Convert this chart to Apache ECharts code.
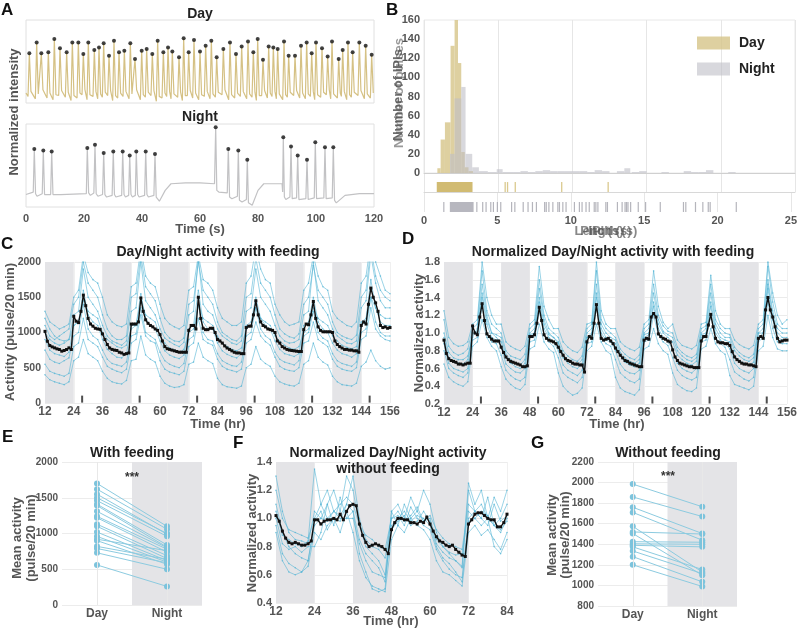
<!DOCTYPE html>
<html><head><meta charset="utf-8">
<script src="https://cdn.jsdelivr.net/npm/echarts@6/dist/echarts.min.js"></script>
<style>html,body{margin:0;padding:0;background:#fff}#c{width:800px;height:630px}</style>
</head><body><div id="c"></div>
<script>
// ---------- Panel A data ----------
const dayPeakT = [1.15,3.68,5.29,7.70,9.77,11.72,14.02,15.98,18.05,19.77,21.49,23.56,25.17,26.78,28.62,30.34,32.07,33.91,35.98,37.59,39.89,41.61,43.56,45.40,47.36,48.97,50.46,52.76,54.37,56.09,57.93,60.0,61.95,63.91,65.75,68.05,70.34,72.41,74.37,76.55,78.39,79.89,81.72,83.68,85.29,86.78,88.97,90.57,92.76,94.83,96.78,98.51,100.0,102.07,104.02,105.52,107.82,109.20,111.03,112.64,114.94,117.13,119.20];
const dayPeakV = [0.60,0.73,0.60,0.61,0.77,0.66,0.61,0.73,0.73,0.59,0.73,0.64,0.67,0.72,0.57,0.75,0.61,0.63,0.72,0.53,0.63,0.65,0.59,0.75,0.61,0.67,0.62,0.55,0.78,0.61,0.76,0.62,0.69,0.75,0.55,0.65,0.73,0.59,0.68,0.74,0.61,0.77,0.52,0.68,0.67,0.65,0.74,0.57,0.57,0.69,0.73,0.60,0.73,0.66,0.56,0.74,0.53,0.64,0.73,0.61,0.73,0.69,0.58];
const dayTroughV = [0.08,0.05,0.10,0.06,0.04,0.09,0.07,0.03,0.06,0.10,0.04,0.08,0.05,0.07,0.09,0.03,0.06,0.08,0.05,0.10,0.04,0.07,0.09,0.02,0.06,0.08,0.05,0.07,0.03,0.09,0.06,0.04,0.08,0.05,0.07,0.10,0.04,0.06,0.08,0.05,0.07,0.03,0.09,0.06,0.08,0.05,0.04,0.07,0.09,0.06,0.05,0.08,0.04,0.07,0.10,0.05,0.06,0.08,0.04,0.07,0.09,0.05,0.06];
const nightTrace = [[0,0.15],[2.5,0.18],[2.86,0.70],[3.3,0.16],[3.8,0.13],[5.6,0.16],[5.97,0.68],[6.4,0.15],[6.9,0.13],[8.5,0.15],[8.86,0.67],[9.3,0.15],[9.8,0.13],[12,0.15],[20.8,0.16],[21.14,0.71],[21.6,0.17],[22.2,0.14],[23.4,0.17],[23.79,0.75],[24.2,0.16],[24.8,0.13],[26.4,0.15],[26.79,0.65],[27.2,0.15],[27.8,0.12],[29.7,0.14],[30.1,0.67],[30.5,0.15],[31,0.12],[33,0.14],[33.34,0.67],[33.8,0.15],[34.3,0.12],[35.4,0.14],[35.76,0.62],[36.2,0.15],[36.7,0.12],[37.7,0.14],[38.03,0.67],[38.5,0.15],[39,0.12],[40.9,0.14],[41.28,0.67],[41.7,0.15],[42.2,0.12],[44.1,0.14],[44.48,0.64],[44.9,0.12],[46,0.07],[48,0.2],[50,0.28],[55,0.29],[60,0.29],[65,0.28],[65.41,0.96],[65.8,0.2],[66.5,0.18],[69.4,0.17],[69.76,0.70],[70.2,0.12],[71,0.1],[72.9,0.13],[73.21,0.68],[73.6,0.08],[74.5,0.06],[76,0.09],[76.31,0.57],[76.7,0.05],[78,0.02],[80,0.2],[82,0.28],[88.3,0.28],[88.5,0.18],[88.72,0.84],[89.1,0.12],[89.6,0.09],[91,0.12],[91.38,0.73],[91.8,0.1],[92.4,0.08],[93.3,0.11],[93.69,0.62],[94.1,0.09],[94.7,0.07],[96.5,0.1],[96.9,0.57],[97.3,0.09],[97.9,0.07],[99.4,0.11],[99.76,0.78],[100.2,0.1],[100.8,0.08],[102.7,0.11],[103.1,0.72],[103.5,0.1],[104.1,0.08],[105.6,0.11],[105.97,0.72],[106.4,0.08],[107,0.05],[110,0.14],[115,0.16],[120,0.16]];
const nightPeakT = [2.86,5.97,8.86,21.14,23.79,26.79,30.1,33.34,35.76,38.03,41.28,44.48,65.41,69.76,73.21,76.31,88.72,91.38,93.69,96.9,99.76,103.1,105.97];
const nightPeakV = [0.70,0.68,0.67,0.71,0.75,0.65,0.67,0.67,0.62,0.67,0.67,0.64,0.96,0.70,0.68,0.57,0.84,0.73,0.62,0.57,0.78,0.72,0.72];

// ---------- Panel B data ----------
const dayHist = [[0.9,1.12,5],[1.12,1.41,35],[1.41,1.79,53],[1.79,2.06,133],[2.06,2.29,160],[2.29,2.51,115],[2.51,2.75,22],[2.75,3.0,6],[3.0,3.3,2]];
const nightHist = [[1.75,2.06,20],[2.06,2.51,78],[2.51,2.8,90],[2.8,3.25,20],[3.25,3.7,6],[3.7,4.3,2],[4.3,4.9,1],[4.9,5.3,4],[5.3,6.0,1],[6.0,6.5,1],[6.5,7.0,2],[7.0,7.5,1],[7.5,8.0,2],[8.0,8.5,3],[8.5,9.0,2],[9.0,9.5,2],[9.5,10.0,2],[10.0,10.5,2],[10.5,11.0,2],[11.0,11.5,1],[11.5,12.0,3],[12.0,12.5,2],[13.0,13.5,2],[13.5,13.9,5],[14.0,14.5,1],[14.5,15.0,2],[16.0,16.5,1],[17.5,18.0,2],[18.0,18.5,1],[18.5,19.0,1],[19.0,19.5,3],[20.5,21.0,1]];
const dayRugBlock = [0.86,3.27];
const dayRugTicks = [5.47,5.63,6.15,9.28,12.41];
const nightRugBlock = [1.76,3.38];
const nightRugTicks = [1.35,3.6,4.0,4.23,4.55,4.73,5.0,5.23,5.97,6.19,6.76,7.09,7.39,7.66,8.22,8.33,8.51,8.78,9.12,9.23,9.46,9.68,10.25,10.59,10.77,11.04,11.26,11.6,11.71,11.85,12.39,12.5,13.18,13.5,13.7,13.8,13.9,14.08,14.6,15.1,16.1,17.68,17.84,18.5,19.0,19.37,19.5,21.28];

// ---------- Panel C data (pulse/20 min) ----------
const nightBandsCD = [[12,24],[36,48],[60,72],[84,96],[108,120],[132,144]];
const feedTimes = [27.5,51.5,75.5,99.5,123.5,147.5];
const meanC = [1016,876,815,796,782,768,759,735,745,759,782,759,
1230,1160,1140,1300,1530,1380,1200,1120,1090,1060,1050,1045,
980,900,830,780,760,750,745,720,710,690,700,710,
1120,1120,1120,1150,1490,1300,1180,1130,1100,1080,1050,1030,
970,880,800,770,760,750,740,730,720,720,720,720,
1030,1100,1100,1050,1500,1200,1060,1040,1040,1060,1060,1000,
900,880,850,810,780,760,740,720,710,710,700,700,
1070,1090,1090,1250,1450,1250,1150,1100,1080,1050,1040,1030,
1000,880,850,800,780,760,750,745,740,735,730,730,
1040,1120,1110,1250,1440,1200,1080,1030,1010,1010,1010,1010,
1000,880,830,800,780,760,760,750,750,740,740,720,
1100,1150,1120,1400,1630,1500,1420,1300,1100,1070,1080,1060,1070];
const fishC1 = [1300,1150,1100,1050,1080,1120,1500,1600,2100,1850,1750,1700,1500,1250,1150,1100,1080,1120,1650,1700,2200,1800,1700,1650,1400,1200,1120,1080,1050,1100,1600,1650,2100,1750,1700,1600,1350,1200,1150,1100,1100,1150,1700,1800,2200,1900,1750,1700,1400,1250,1150,1100,1120,1150,1600,1700,2100,1800,1650,1600,1300,1200,1150,1100,1080,1150,1700,1800,2300,2000,1800,1600,1550];
const fishC2 = [1000,900,850,820,850,900,1250,1300,1900,1500,1400,1300,1100,950,880,850,820,880,1300,1350,2000,1450,1350,1250,1050,920,870,830,800,860,1250,1300,2050,1400,1300,1250,1050,950,900,850,830,880,1300,1350,1900,1500,1400,1300,1100,950,880,850,860,900,1250,1300,2000,1450,1350,1250,1050,950,900,850,840,880,1350,1450,2100,1700,1450,1350,1350];
const fishC3 = [900,750,700,680,660,720,1100,1150,1600,1250,1150,1100,900,760,700,650,640,700,1100,1100,1550,1200,1100,1050,880,740,680,650,630,680,1050,1100,1600,1150,1050,1050,850,740,690,660,640,700,1100,1150,1500,1200,1100,1050,880,760,700,680,660,700,1100,1150,1500,1150,1050,1000,850,750,700,680,650,700,1150,1200,1750,1350,1150,1100,1100];
const fishC4 = [750,620,580,560,600,640,950,1000,1400,1050,950,900,750,620,560,540,520,580,950,980,1350,1000,950,900,720,600,550,520,500,560,900,950,1400,1000,900,880,700,600,560,530,520,580,950,1000,1350,1050,950,900,720,620,580,560,540,600,950,1000,1300,1000,920,880,700,600,560,540,520,580,1000,1050,1500,1150,1000,950,950];
const fishC5 = [550,450,420,400,380,420,800,850,1200,900,850,800,650,520,480,450,430,480,850,900,1250,950,880,850,600,480,440,420,400,450,800,850,1200,900,850,820,620,520,480,460,440,480,850,900,1150,950,870,820,650,520,480,460,450,500,850,880,1150,900,850,800,620,520,480,460,450,500,900,950,1350,1050,950,900,880];
const fishC6 = [400,330,300,280,260,300,600,650,900,700,650,600,450,350,300,280,270,320,600,620,950,680,620,580,380,280,240,220,230,260,550,580,850,650,600,560,350,260,230,220,210,240,500,550,800,620,560,520,380,300,270,250,240,280,550,600,850,650,580,540,380,300,260,250,240,280,520,580,750,600,520,480,500];
const fishC7 = [1200,1050,950,900,880,900,1100,1150,1450,1300,1250,1200,1000,900,850,800,780,820,1050,1100,1450,1250,1200,1150,950,850,780,750,720,760,1000,1050,1400,1200,1150,1100,950,850,800,760,740,780,1050,1100,1350,1200,1150,1100,950,880,820,780,760,800,1000,1050,1350,1200,1150,1100,950,880,820,790,770,800,1100,1150,1500,1350,1250,1200,1200];
const fishC8 = [1100,950,900,950,1000,1050,1400,1500,2000,1700,1600,1500,1250,1050,950,900,900,950,1500,1550,2100,1650,1550,1450,1200,1000,920,880,870,920,1400,1450,2000,1600,1500,1400,1150,1000,950,900,880,950,1500,1550,2050,1700,1600,1500,1250,1050,980,940,920,980,1400,1500,1950,1600,1500,1400,1150,1000,950,920,900,960,1500,1600,2200,1800,1600,1500,1450];

// ---------- Panel D data (normalized) ----------
const meanD = [0.92,0.77,0.71,0.69,0.68,0.67,0.65,0.65,0.64,0.65,0.66,0.66,
1.08,1.0,0.98,1.18,1.33,1.14,0.99,0.96,0.93,0.91,0.91,0.91,
0.84,0.78,0.73,0.70,0.68,0.67,0.66,0.65,0.64,0.62,0.62,0.63,
0.96,0.96,0.98,1.11,1.29,1.14,0.98,0.94,0.92,0.91,0.90,0.88,
0.84,0.79,0.75,0.71,0.69,0.68,0.66,0.65,0.65,0.64,0.64,0.56,
0.90,0.96,0.94,1.11,1.32,1.11,0.94,0.92,0.93,0.94,0.91,0.88,
0.83,0.79,0.75,0.72,0.69,0.68,0.66,0.65,0.64,0.63,0.62,0.62,
0.92,0.94,0.93,1.18,1.22,1.18,0.99,0.96,0.94,0.93,0.91,0.90,
0.81,0.73,0.69,0.66,0.65,0.64,0.63,0.62,0.62,0.61,0.61,0.61,
0.91,0.96,0.96,1.09,1.21,1.07,0.94,0.90,0.89,0.89,0.88,0.88,
0.86,0.79,0.73,0.70,0.68,0.66,0.65,0.65,0.64,0.64,0.63,0.62,
0.94,0.96,0.94,1.26,1.40,1.26,1.18,1.07,0.94,0.90,0.91,0.92,0.92];
const fishD1 = [1.15,0.85,0.78,0.75,0.77,0.82,1.05,1.1,1.7,1.25,1.1,1.05,1.0,0.8,0.74,0.72,0.7,0.76,1.05,1.1,1.6,1.2,1.05,1.0,0.95,0.8,0.74,0.7,0.68,0.74,1.05,1.1,1.7,1.15,1.05,1.0,0.95,0.82,0.76,0.72,0.7,0.75,1.05,1.1,1.55,1.2,1.08,1.02,1.0,0.84,0.78,0.74,0.72,0.76,1.05,1.08,1.55,1.15,1.05,1.0,0.98,0.84,0.78,0.74,0.72,0.76,1.05,1.1,1.75,1.35,1.1,1.05,1.05];
const fishD2 = [0.95,0.72,0.68,0.66,0.65,0.7,1.0,1.0,1.45,1.15,1.0,0.95,0.9,0.72,0.66,0.62,0.6,0.66,0.98,1.0,1.4,1.1,0.98,0.95,0.88,0.72,0.66,0.62,0.6,0.65,0.95,0.98,1.45,1.05,0.95,0.92,0.88,0.74,0.67,0.64,0.62,0.66,0.98,1.0,1.35,1.1,1.0,0.95,0.9,0.75,0.7,0.66,0.64,0.68,0.98,1.0,1.35,1.05,0.95,0.92,0.9,0.74,0.69,0.66,0.64,0.67,1.0,1.0,1.55,1.2,1.0,0.95,0.95];
const fishD3 = [0.8,0.6,0.55,0.52,0.5,0.55,0.92,0.95,1.3,1.0,0.9,0.88,0.75,0.58,0.52,0.48,0.46,0.5,0.9,0.92,1.25,0.98,0.9,0.85,0.72,0.55,0.5,0.47,0.44,0.5,0.88,0.9,1.3,0.95,0.88,0.85,0.7,0.55,0.5,0.46,0.44,0.48,0.9,0.92,1.2,0.98,0.9,0.86,0.72,0.58,0.52,0.49,0.47,0.5,0.9,0.92,1.2,0.95,0.88,0.84,0.7,0.56,0.52,0.48,0.46,0.5,0.9,0.95,1.35,1.05,0.9,0.88,0.88];
const fishD4 = [0.65,0.5,0.45,0.42,0.4,0.45,0.85,0.9,1.15,0.95,0.85,0.8,0.62,0.48,0.42,0.38,0.36,0.42,0.82,0.85,1.1,0.9,0.82,0.78,0.55,0.4,0.34,0.3,0.32,0.38,0.8,0.85,1.1,0.9,0.8,0.76,0.5,0.38,0.34,0.32,0.3,0.36,0.82,0.85,1.05,0.88,0.8,0.76,0.55,0.42,0.38,0.35,0.34,0.38,0.82,0.85,1.05,0.88,0.8,0.76,0.52,0.42,0.4,0.38,0.36,0.4,0.8,0.85,1.2,0.95,0.82,0.8,0.8];
const fishD5 = [1.25,0.95,0.88,0.85,0.86,0.9,1.1,1.15,1.8,1.4,1.2,1.1,1.1,0.9,0.85,0.82,0.8,0.85,1.1,1.15,1.75,1.3,1.15,1.05,1.05,0.9,0.84,0.8,0.78,0.84,1.1,1.12,1.8,1.25,1.1,1.05,1.05,0.9,0.85,0.82,0.8,0.84,1.1,1.15,1.7,1.3,1.12,1.05,1.1,0.92,0.86,0.84,0.82,0.86,1.1,1.12,1.65,1.25,1.1,1.05,1.05,0.92,0.87,0.84,0.82,0.86,1.1,1.15,1.8,1.45,1.2,1.1,1.15];
const fishD6 = [1.0,0.78,0.72,0.7,0.7,0.74,0.95,1.05,1.55,1.2,1.0,0.98,0.95,0.76,0.7,0.66,0.64,0.7,1.0,1.05,1.5,1.15,1.0,0.95,0.9,0.76,0.7,0.66,0.64,0.7,1.0,1.05,1.55,1.1,1.0,0.95,0.92,0.78,0.72,0.68,0.66,0.7,1.0,1.05,1.45,1.15,1.02,0.98,0.95,0.8,0.74,0.7,0.68,0.72,1.0,1.05,1.45,1.1,1.0,0.95,0.95,0.8,0.74,0.7,0.68,0.72,1.0,1.05,1.6,1.25,1.05,1.0,1.0];
const fishD7 = [0.88,0.66,0.6,0.58,0.56,0.6,1.05,1.0,1.4,1.1,0.95,0.92,0.85,0.65,0.6,0.56,0.55,0.6,0.95,1.0,1.35,1.05,0.95,0.9,0.8,0.64,0.58,0.55,0.52,0.58,0.95,1.0,1.4,1.0,0.92,0.9,0.8,0.65,0.58,0.55,0.54,0.58,0.95,0.98,1.3,1.05,0.95,0.9,0.82,0.66,0.6,0.57,0.55,0.6,0.95,0.98,1.3,1.0,0.92,0.88,0.82,0.66,0.6,0.57,0.55,0.6,0.95,1.0,1.5,1.15,0.95,0.92,0.92];

// ---------- Panel E / G data ----------
const pairCats = ['Day','Night'];
const eDay = [1700,1620,1550,1500,1460,1410,1390,1310,1240,1220,1130,1100,1020,960,920,900,820,790,730,560];
const eNight = [1100,1060,990,1000,960,840,810,800,780,740,690,650,620,600,760,570,640,590,500,260];
const gDay = [1985,1860,1760,1710,1575,1520,1505,1425,1405,1390,1375,1335,1280,1200];
const gNight = [1765,1670,1505,1440,1130,1500,1100,1420,1400,1375,1155,1115,1035,990];

// ---------- Panel F data ----------
const nightBandsF = [[12,24],[36,48],[60,72]];
const meanF = [1.02,0.98,0.91,0.86,0.83,0.82,0.83,0.82,0.81,0.81,0.82,0.84,
0.99,0.99,0.96,0.98,0.99,0.99,1.0,0.99,1.03,0.99,1.05,1.09,
1.10,1.09,0.96,0.88,0.83,0.80,0.81,0.82,0.81,0.80,0.78,0.75,
0.92,0.97,1.0,1.0,0.99,0.99,0.97,0.97,0.96,0.98,0.97,1.01,
0.96,0.91,0.87,0.84,0.83,0.81,0.80,0.81,0.78,0.76,0.74,0.73,
0.96,0.99,1.03,1.04,1.04,1.02,1.0,0.99,0.99,0.94,0.94,0.97,1.03];
const fishF1 = [1.3,1.05,0.9,0.85,0.84,0.82,1.05,1.0,1.1,1.2,1.05,1.3,1.2,0.95,0.8,0.75,0.7,0.6,1.05,1.1,1.0,1.15,1.05,1.2,1.1,0.9,0.8,0.75,0.7,0.65,1.2,1.05,1.1,1.0,1.15,1.05,1.2];
const fishF2 = [1.1,0.9,0.8,0.75,0.72,0.7,0.95,1.0,0.98,1.05,1.02,1.1,1.05,0.85,0.75,0.7,0.65,0.55,0.95,1.0,1.05,0.98,1.02,1.0,0.95,0.8,0.72,0.68,0.62,0.55,1.0,1.05,1.0,0.95,1.1,0.98,1.02];
const fishF3 = [0.95,0.75,0.68,0.65,0.62,0.66,0.9,0.85,0.95,1.0,0.9,1.05,0.9,0.7,0.58,0.52,0.5,0.48,0.85,0.95,0.9,1.0,0.95,0.92,0.85,0.7,0.62,0.6,0.56,0.52,0.9,0.95,0.88,0.92,0.85,0.78,0.9];
const fishF4 = [1.2,1.0,0.92,0.9,0.88,0.86,1.0,1.1,1.2,1.05,1.1,1.15,1.1,0.95,0.88,0.85,0.8,0.78,1.0,1.05,0.98,1.02,1.08,0.98,1.02,0.92,0.86,0.82,0.8,0.78,1.1,1.05,1.0,1.15,0.95,1.0,1.1];
const fishF5 = [1.0,0.82,0.78,0.8,0.76,0.8,0.8,0.9,1.1,0.95,1.15,1.0,1.0,0.82,0.7,0.62,0.6,0.58,0.92,0.98,1.02,0.95,0.98,1.05,0.98,0.82,0.76,0.72,0.7,0.66,1.25,1.1,1.2,1.0,0.95,0.9,1.0];
const fishF6 = [0.9,0.7,0.62,0.6,0.62,0.7,0.98,1.05,0.92,1.0,0.98,1.1,1.3,1.0,0.85,0.8,0.78,0.72,1.0,1.02,0.95,1.08,1.0,0.95,0.92,0.78,0.7,0.64,0.6,0.58,0.98,1.0,1.05,1.02,0.95,0.92,0.98];
const fishF7 = [1.05,0.88,0.85,0.82,0.8,0.84,1.35,1.1,1.0,1.05,1.0,1.0,1.05,0.75,0.62,0.5,0.48,0.5,1.05,0.95,1.1,1.0,1.05,0.98,1.0,0.85,0.8,0.76,0.74,0.75,1.05,1.0,0.95,1.0,0.8,0.75,0.85];

// ---------- time grids (sampling positions) ----------
const hoursCD = Array.from({length:145},(_,i)=>12+i);
const twoHrCD = Array.from({length:73},(_,i)=>12+2*i);
const hoursF = Array.from({length:73},(_,i)=>12+i);
const twoHrF = Array.from({length:37},(_,i)=>12+2*i);

// ---------- styling ----------
const FONT = '"Liberation Sans", Arial, sans-serif';
const TICK = '#555';
const BLUE = '#55b6d5';
const BAND = '#e4e4e7';
const riseS = 0.45, fallS = 0.55; // pulse shape (rise / fall duration, s)

const dayTraceData = [[0,0.12]];
dayPeakT.forEach((t,i)=>{ dayTraceData.push([t-riseS, dayTroughV[i]]); dayTraceData.push([t, dayPeakV[i]]); dayTraceData.push([t+fallS, dayTroughV[i]+0.06]); });

function lbl(extra){ return Object.assign({color:TICK, fontFamily:FONT, fontWeight:'bold', fontSize:11}, extra||{}); }
function vAxis(gi, o){
  return Object.assign({gridIndex:gi, type:'value', axisLine:{show:false}, axisTick:{show:false}, splitLine:{show:false}, axisLabel:lbl({margin:4})}, o);
}
function bandSeries(ai, bands, color){
  return {type:'custom', xAxisIndex:ai, yAxisIndex:ai, silent:true, z:1,
    data: bands.map(b=>[b[0],b[1],0]), encode:{x:[0,1], y:2},
    renderItem:(params, api)=>{
      const cs = params.coordSys;
      const x0 = api.coord([api.value(0), api.value(2)])[0];
      const x1 = api.coord([api.value(1), api.value(2)])[0];
      return {type:'rect', shape:{x:x0, y:cs.y, width:x1-x0, height:cs.height}, style:{fill:color}};
    }};
}
function rectSeries(ai, rects, color, name){
  return {type:'custom', name:name, xAxisIndex:ai, yAxisIndex:ai, silent:true, z:3,
    itemStyle:{color:color},
    data: rects, encode:{x:[0,1], y:[2,3]},
    renderItem:(params, api)=>{
      const p0 = api.coord([api.value(0), api.value(3)]);
      const p1 = api.coord([api.value(1), api.value(2)]);
      return {type:'rect', shape:{x:p0[0], y:p0[1], width:p1[0]-p0[0], height:p1[1]-p0[1]}, style:{fill:color}};
    }};
}
function traceSeries(ai, times, vals){
  return {type:'line', xAxisIndex:ai, yAxisIndex:ai, silent:true, z:3, data: vals.map((v,i)=>[times[i], v]),
    symbol:'circle', symbolSize:1.6, showSymbol:true, itemStyle:{color:BLUE, opacity:0.75},
    lineStyle:{color:BLUE, width:0.8, opacity:0.75}};
}
function meanSeries(ai, times, vals){
  return {type:'line', xAxisIndex:ai, yAxisIndex:ai, silent:true, z:5, data: vals.map((v,i)=>[times[i], v]),
    symbol:'rect', symbolSize:3, itemStyle:{color:'#111'}, lineStyle:{color:'#111', width:1.4}};
}
function pairSeries(ai, d, n){
  return {type:'line', xAxisIndex:ai, yAxisIndex:ai, silent:true, z:4, data:[[1,d],[3,n]],
    symbol:'circle', symbolSize:6, itemStyle:{color:'#7cc3dc'}, lineStyle:{color:'#8ccbe0', width:1}};
}
function txt(x, y, text, o){
  o = o || {};
  return {type:'text', x:x, y:y, rotation:o.rot||0, z:100, silent:true,
    style:{text:text, fill:o.color||'#222', font:(o.weight||'bold')+' '+(o.size||13)+'px '+FONT,
      align:o.align||'center', verticalAlign:'middle', opacity:o.opacity==null?1:o.opacity}};
}

const series = [];
// A
series.push({type:'line', xAxisIndex:0, yAxisIndex:0, data:dayTraceData, showSymbol:false, silent:true, lineStyle:{color:'#d5c184', width:1.2}});
series.push({type:'scatter', xAxisIndex:0, yAxisIndex:0, data:dayPeakT.map((t,i)=>[t, dayPeakV[i]]), symbolSize:4, itemStyle:{color:'#111'}, silent:true, z:5});
series.push({type:'line', xAxisIndex:1, yAxisIndex:1, data:nightTrace, showSymbol:false, silent:true, lineStyle:{color:'#c2c2c4', width:1.2}});
series.push({type:'scatter', xAxisIndex:1, yAxisIndex:1, data:nightPeakT.map((t,i)=>[t, nightPeakV[i]]), symbolSize:4, itemStyle:{color:'#111'}, silent:true, z:5});
// B
series.push(rectSeries(2, dayHist.map(h=>[h[0],h[1],0,h[2]]), 'rgba(214,196,136,0.8)', 'Day'));
series.push(rectSeries(2, nightHist.map(h=>[h[0],h[1],0,h[2]]), 'rgba(190,190,198,0.6)', 'Night'));
series.push(rectSeries(3, [[dayRugBlock[0], dayRugBlock[1], 0, 0.53]], '#d1bb72'));
series.push({type:'scatter', xAxisIndex:3, yAxisIndex:3, data:dayRugTicks.map(x=>[x,0.26]), symbol:'rect', symbolSize:[1.3,10], itemStyle:{color:'#d1bb72'}, silent:true});
series.push(rectSeries(4, [[nightRugBlock[0], nightRugBlock[1], 0, 0.5]], '#b7b7bf'));
series.push({type:'scatter', xAxisIndex:4, yAxisIndex:4, data:nightRugTicks.map(x=>[x,0.25]), symbol:'rect', symbolSize:[1.2,10], itemStyle:{color:'#a3a3ab'}, silent:true});
// C
series.push(bandSeries(5, nightBandsCD, BAND));
[fishC1,fishC2,fishC3,fishC4,fishC5,fishC6,fishC7,fishC8].forEach(f=>series.push(traceSeries(5, twoHrCD, f)));
series.push(meanSeries(5, hoursCD, meanC));
series.push({type:'scatter', xAxisIndex:5, yAxisIndex:5, data:feedTimes.map(t=>[t,55]), symbol:'rect', symbolSize:[2,7], itemStyle:{color:'#222'}, silent:true, z:6});
// D
series.push(bandSeries(6, nightBandsCD, BAND));
[fishD1,fishD2,fishD3,fishD4,fishD5,fishD6,fishD7].forEach(f=>series.push(traceSeries(6, twoHrCD, f)));
series.push(meanSeries(6, hoursCD, meanD));
series.push({type:'scatter', xAxisIndex:6, yAxisIndex:6, data:feedTimes.map(t=>[t,0.245]), symbol:'rect', symbolSize:[2,7], itemStyle:{color:'#222'}, silent:true, z:6});
// E
const eBand = bandSeries(7, [[2,4]], BAND);
eBand.markLine = {silent:true, symbol:'none', label:{show:false}, lineStyle:{color:'#e8e8e8', type:'solid', width:1}, data:[{xAxis:1},{xAxis:3}]};
series.push(eBand);
eDay.forEach((d,i)=>series.push(pairSeries(7, d, eNight[i])));
// F
series.push(bandSeries(8, nightBandsF, BAND));
[fishF1,fishF2,fishF3,fishF4,fishF5,fishF6,fishF7].forEach(f=>series.push(traceSeries(8, twoHrF, f)));
series.push(meanSeries(8, hoursF, meanF));
// G
const gBand = bandSeries(9, [[2,4]], BAND);
gBand.markLine = {silent:true, symbol:'none', label:{show:false}, lineStyle:{color:'#e8e8e8', type:'solid', width:1}, data:[{xAxis:1},{xAxis:3}]};
series.push(gBand);
gDay.forEach((d,i)=>series.push(pairSeries(9, d, gNight[i])));

const catFmt = v => (v===1 ? pairCats[0] : (v===3 ? pairCats[1] : ''));
const fix1 = v => v.toFixed(1);
const plain = v => String(v);
const gridLine = c => ({show:true, lineStyle:{color:c, width:1}});

const option = {
  animation:false,
  backgroundColor:'#fff',
  grid:[
    {left:26, top:20, width:348, height:83, show:true, borderColor:'#e0e0e0', borderWidth:1},
    {left:26, top:124, width:348, height:83, show:true, borderColor:'#e0e0e0', borderWidth:1},
    {left:424, top:20, width:371, height:153, show:true, borderColor:'#e8e8e8', borderWidth:1},
    {left:424, top:173, width:371, height:19},
    {left:424, top:192, width:371, height:20},
    {left:45, top:262, width:345, height:141},
    {left:444, top:262, width:346, height:142},
    {left:62, top:462, width:140, height:143},
    {left:276, top:462, width:231, height:141},
    {left:598, top:462, width:139, height:144}
  ],
  xAxis:[
    vAxis(0,{min:0,max:120,show:false}),
    vAxis(1,{min:0,max:120,interval:20, axisLabel:lbl({margin:6})}),
    vAxis(2,{min:0,max:25,interval:5, axisLabel:{show:false}, splitLine:gridLine('#e6e6e6'), axisLine:{show:true, lineStyle:{color:'#d0d0d0'}}}),
    vAxis(3,{min:0,max:25,interval:5, axisLabel:{show:false}, splitLine:gridLine('#e6e6e6'), axisLine:{show:true, lineStyle:{color:'#d8d8d8'}}}),
    vAxis(4,{min:0,max:25,interval:5, axisLabel:lbl({margin:3}), splitLine:gridLine('#e6e6e6')}),
    vAxis(5,{min:12,max:156,interval:12, axisLabel:lbl({margin:3, fontSize:12}), splitLine:gridLine('#f0f0f0')}),
    vAxis(6,{min:12,max:156,interval:12, axisLabel:lbl({margin:3, fontSize:12}), splitLine:gridLine('#f0f0f0')}),
    vAxis(7,{min:0,max:4,interval:1, axisLabel:lbl({margin:3, fontSize:12, formatter:catFmt})}),
    vAxis(8,{min:12,max:84,interval:12, axisLabel:lbl({margin:3, fontSize:12}), splitLine:gridLine('#f0f0f0')}),
    vAxis(9,{min:0,max:4,interval:1, axisLabel:lbl({margin:3, fontSize:12, formatter:catFmt})})
  ],
  yAxis:[
    vAxis(0,{min:0,max:1,show:false}),
    vAxis(1,{min:0,max:1,show:false}),
    vAxis(2,{min:0,max:160,interval:20, axisLabel:lbl({margin:4, formatter:plain})}),
    vAxis(3,{min:0,max:1,show:false}),
    vAxis(4,{min:0,max:1,show:false}),
    vAxis(5,{min:0,max:2000,interval:500, axisLabel:lbl({margin:4, fontSize:10.5, formatter:plain}), splitLine:gridLine('#ebebeb')}),
    vAxis(6,{min:0.2,max:1.8,interval:0.2, axisLabel:lbl({margin:4, fontSize:11, formatter:fix1}), splitLine:gridLine('#ebebeb')}),
    vAxis(7,{min:0,max:2000,interval:500, axisLabel:lbl({margin:4, fontSize:10, formatter:plain}), splitLine:gridLine('#ececec')}),
    vAxis(8,{min:0.4,max:1.4,interval:0.2, axisLabel:lbl({margin:4, formatter:fix1}), splitLine:gridLine('#ececec')}),
    vAxis(9,{min:800,max:2200,interval:200, axisLabel:lbl({margin:4, fontSize:10, formatter:plain}), splitLine:gridLine('#ececec')})
  ],
  legend:{data:[{name:'Day',icon:'rect'},{name:'Night',icon:'rect'}], orient:'vertical', left:692, top:31, itemWidth:33, itemHeight:13, itemGap:12,
    selectedMode:false, textStyle:{fontFamily:FONT, fontWeight:'bold', fontSize:14, color:'#222', padding:[0,0,0,4]}},
  series: series,
  graphic:{elements:[
    txt(1,10,'A',{size:17,align:'left',color:'#111'}),
    txt(200,14,'Day',{size:14}),
    txt(200,117,'Night',{size:14}),
    txt(200,229,'Time (s)',{size:13,color:TICK}),
    txt(14,112,'Normalized intensity',{size:13,color:TICK,rot:Math.PI/2}),
    txt(386,10,'B',{size:17,align:'left',color:'#111'}),
    txt(398,95,'Number of IPIs',{size:13,color:TICK,rot:Math.PI/2,opacity:0.85}),
    txt(399,93,'Number of pulses',{size:13,color:TICK,rot:Math.PI/2,opacity:0.6}),
    txt(606,231,'IPI (s)',{size:13,color:TICK,opacity:0.7}),
    txt(606,231,'Pitch (s)',{size:13,color:TICK,opacity:0.7}),
    txt(606,231,'Length (s)',{size:13,color:TICK,opacity:0.7}),
    txt(1,244,'C',{size:17,align:'left',color:'#111'}),
    txt(218,252,'Day/Night activity with feeding',{size:14}),
    txt(10,332,'Activity (pulse/20 min)',{size:13,color:TICK,rot:Math.PI/2}),
    txt(218,424,'Time (hr)',{size:13,color:TICK}),
    txt(402,239,'D',{size:17,align:'left',color:'#111'}),
    txt(613,252,'Normalized Day/Night activity with feeding',{size:14}),
    txt(419,333,'Normalized activity',{size:13,color:TICK,rot:Math.PI/2}),
    txt(617,424,'Time (hr)',{size:13,color:TICK}),
    txt(2,437,'E',{size:17,align:'left',color:'#111'}),
    txt(132,453,'With feeding',{size:14}),
    txt(17,538,'Mean activity',{size:13,color:TICK,rot:Math.PI/2}),
    txt(31,538,'(pulse/20 min)',{size:13,color:TICK,rot:Math.PI/2}),
    txt(132,478,'***',{size:12,color:'#333'}),
    txt(233,443,'F',{size:17,align:'left',color:'#111'}),
    txt(388,453,'Normalized Day/Night activity',{size:14}),
    txt(388,469,'without feeding',{size:14}),
    txt(252,533,'Normalized activity',{size:13,color:TICK,rot:Math.PI/2}),
    txt(391,621,'Time (hr)',{size:13,color:TICK}),
    txt(531,443,'G',{size:17,align:'left',color:'#111'}),
    txt(668,453,'Without feeding',{size:14}),
    txt(552,535,'Mean activity',{size:13,color:TICK,rot:Math.PI/2}),
    txt(565,535,'(pulse/20 min)',{size:13,color:TICK,rot:Math.PI/2}),
    txt(668,477,'***',{size:12,color:'#333'})
  ]}
};
const chart = echarts.init(document.getElementById('c'), null, {renderer:'canvas'});
chart.setOption(option);
</script>
</body></html>
